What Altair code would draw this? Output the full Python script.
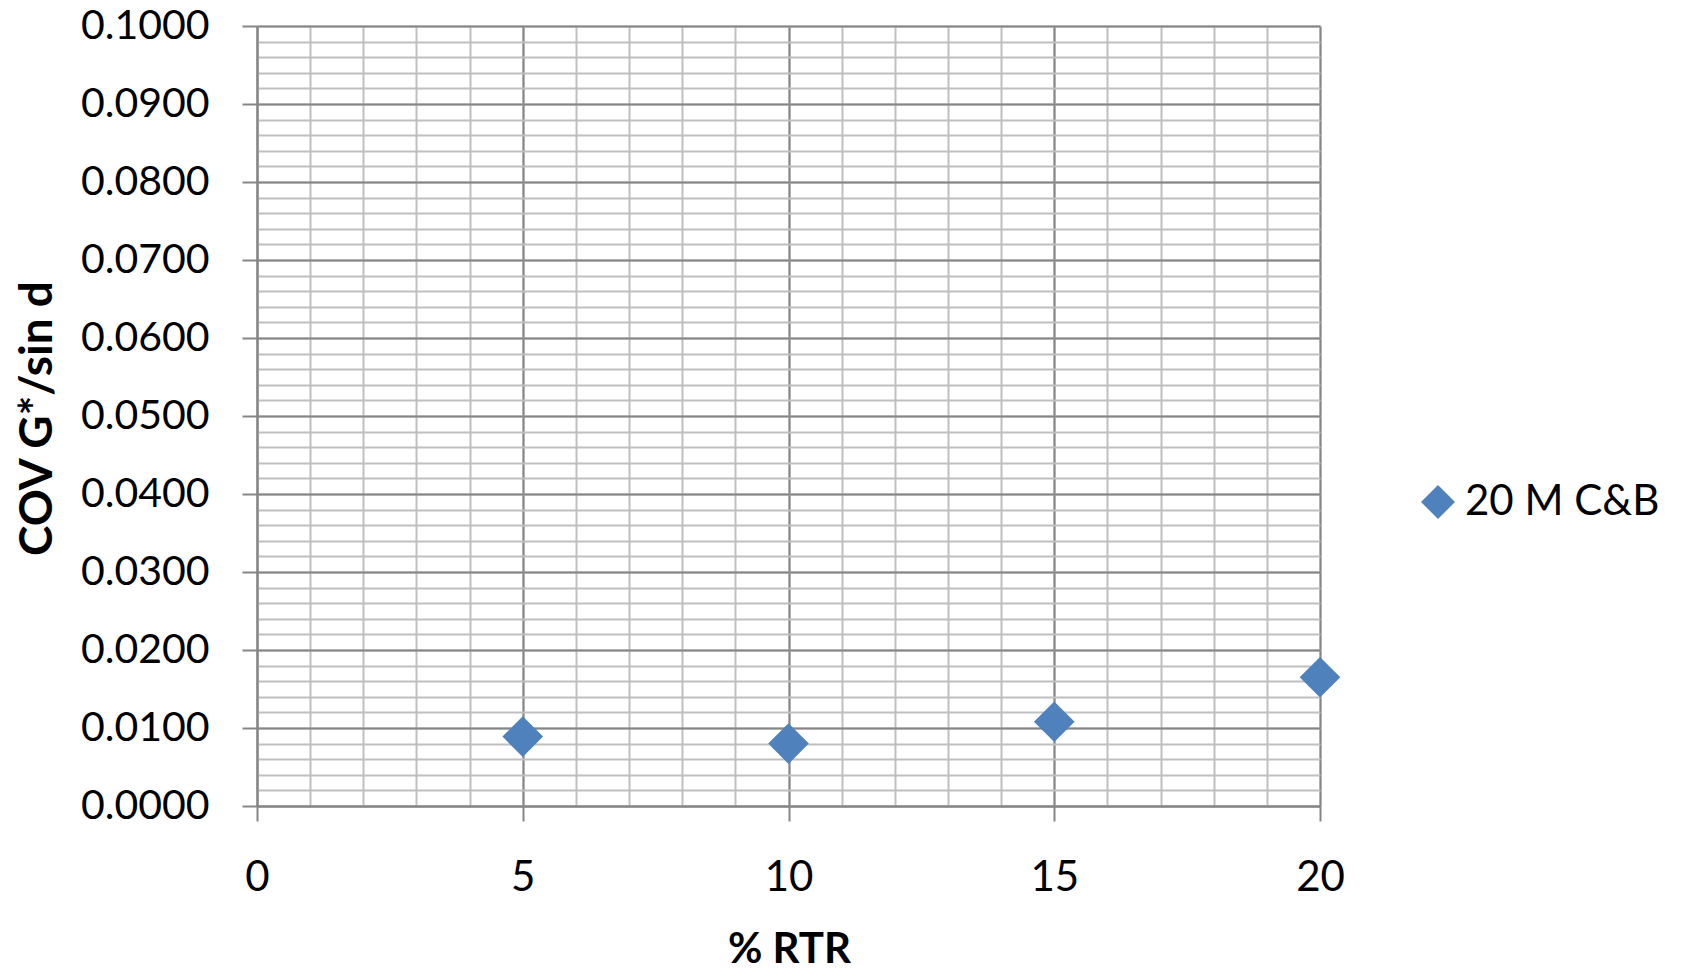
import altair as alt
import pandas as pd

# ---- data ----
x_vals = [5, 10, 15, 20]
y_vals = [0.0089, 0.0080, 0.0108, 0.0165]
series_name = "20 M C&B"

x_major_ticks = [0, 5, 10, 15, 20]
x_minor_ticks = list(range(0, 21))
y_major_ticks = [round(i * 0.01, 2) for i in range(11)]
y_minor_ticks = [round(i * 0.002, 3) for i in range(51)]

df = pd.DataFrame({"x": x_vals, "y": y_vals, "series": [series_name] * len(x_vals)})

FONT = "Lato"
MAJOR = "#868686"
MINOR = "#BFBFBF"
BLUE = "#4F81BD"

xs = alt.Scale(domain=[0, 20], nice=False, zero=False)
ys = alt.Scale(domain=[0, 0.1], nice=False, zero=False)

base = alt.Chart(df)

minor = base.mark_point(opacity=0).encode(
    x=alt.X("x:Q", scale=xs, axis=alt.Axis(
        orient="bottom", values=x_minor_ticks, grid=True, gridColor=MINOR, gridWidth=2,
        labels=False, ticks=False, domain=False, title=None)),
    y=alt.Y("y:Q", scale=ys, axis=alt.Axis(
        orient="left", values=y_minor_ticks, grid=True, gridColor=MINOR, gridWidth=2,
        labels=False, ticks=False, domain=False, title=None)),
)

major = base.mark_point(opacity=0).encode(
    x=alt.X("x:Q", scale=xs, axis=alt.Axis(
        orient="bottom", values=x_major_ticks, grid=True, gridColor=MAJOR, gridWidth=2,
        domain=True, domainColor=MAJOR, domainWidth=2,
        ticks=True, tickColor=MAJOR, tickWidth=2, tickSize=15,
        labelFont=FONT, labelFontSize=42, labelColor="black", labelPadding=36,
        labelFlush=False, format="d",
        title="% RTR", titleFont=FONT, titleFontSize=42, titleFontWeight="bold",
        titleColor="black", titleX=532, titleY=156, titleAlign="center",
        titleBaseline="alphabetic")),
    y=alt.Y("y:Q", scale=ys, axis=alt.Axis(
        orient="left", values=y_major_ticks, grid=True, gridColor=MAJOR, gridWidth=2,
        domain=True, domainColor=MAJOR, domainWidth=2,
        ticks=True, tickColor=MAJOR, tickWidth=2, tickSize=15,
        labelFont=FONT, labelFontSize=41, labelColor="black", labelPadding=33,
        labelFlush=False, format=".4f",
        title="COV G*/sin d", titleFont=FONT, titleFontSize=46, titleFontWeight="bold",
        titleColor="black", titleX=-206, titleY=392, titleAngle=270, titleAlign="center",
        titleBaseline="alphabetic")),
)

points = base.mark_point(shape="diamond", filled=True, size=1650, opacity=1).encode(
    x=alt.X("x:Q", scale=xs, axis=None),
    y=alt.Y("y:Q", scale=ys, axis=None),
    color=alt.Color("series:N", scale=alt.Scale(domain=[series_name], range=[BLUE]),
                    legend=alt.Legend(
                        title=None, orient="none", legendX=1160, legendY=455,
                        symbolType="diamond", symbolSize=1156, symbolStrokeWidth=0,
                        labelFont=FONT, labelFontSize=42, labelColor="black",
                        labelLimit=0, labelOffset=6, padding=0)),
)

chart = alt.layer(minor, major, points).resolve_axis(
    x="independent", y="independent"
).properties(
    width=1063, height=780,
    autosize=alt.AutoSizeParams(type="none"),
    padding={"left": 257, "top": 26, "right": 365, "bottom": 164},
).configure_view(stroke=None).configure(background="white")

chart.save("out.html", embed_options={"renderer": "svg", "actions": False})
